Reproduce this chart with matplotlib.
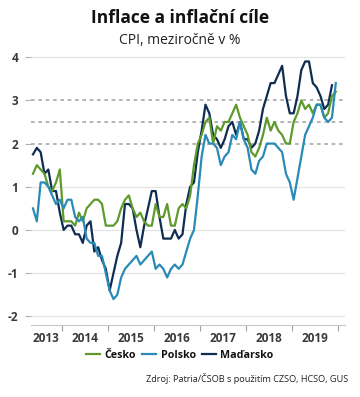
import matplotlib.pyplot as plt
import matplotlib
import numpy as np

matplotlib.rcParams['font.family'] = ['Open Sans', 'DejaVu Sans']

# monthly y/y CPI, May 2013 .. Dec 2019
cesko = [1.3, 1.5, 1.4, 1.3, 1.0, 0.9, 1.1, 1.4,
         0.2, 0.2, 0.2, 0.1, 0.4, 0.2, 0.5, 0.6, 0.7, 0.7, 0.6, 0.1,
         0.1, 0.1, 0.2, 0.5, 0.7, 0.8, 0.5, 0.3, 0.4, 0.2, 0.1, 0.1,
         0.6, 0.3, 0.3, 0.6, 0.1, 0.1, 0.5, 0.6, 0.5, 0.8, 1.5, 2.0,
         2.2, 2.5, 2.6, 2.0, 2.4, 2.3, 2.5, 2.5, 2.7, 2.9, 2.6, 2.4,
         2.2, 1.8, 1.7, 1.9, 2.2, 2.6, 2.3, 2.5, 2.3, 2.2, 2.0, 2.0,
         2.5, 2.7, 3.0, 2.8, 2.9, 2.7, 2.9, 2.9, 2.6, 2.7, 3.1, 3.2]
polsko = [0.5, 0.2, 1.1, 1.1, 1.0, 0.8, 0.6, 0.7,
          0.5, 0.7, 0.7, 0.3, 0.2, 0.3, -0.2, -0.3, -0.3, -0.6, -0.6, -1.0,
          -1.4, -1.6, -1.5, -1.1, -0.9, -0.8, -0.7, -0.6, -0.8, -0.7, -0.6, -0.5,
          -0.9, -0.8, -0.9, -1.1, -0.9, -0.8, -0.9, -0.8, -0.5, -0.2, 0.0, 0.8,
          1.7, 2.2, 2.0, 2.0, 1.9, 1.5, 1.7, 1.8, 2.2, 2.1, 2.5, 2.1,
          1.9, 1.4, 1.3, 1.6, 1.7, 2.0, 2.0, 2.0, 1.9, 1.8, 1.3, 1.1,
          0.7, 1.2, 1.7, 2.2, 2.4, 2.6, 2.9, 2.9, 2.6, 2.5, 2.6, 3.4]
madarsko = [1.75, 1.9, 1.8, 1.3, 1.4, 0.9, 0.9, 0.4,
            0.0, 0.1, 0.1, -0.1, -0.1, -0.3, 0.1, 0.2, -0.5, -0.4, -0.7, -0.9,
            -1.4, -1.0, -0.6, -0.3, 0.6, 0.6, 0.5, 0.0, -0.4, 0.1, 0.5, 0.9,
            0.9, 0.3, -0.2, -0.2, -0.2, 0.0, -0.2, -0.1, 0.6, 1.0, 1.1, 1.8,
            2.3, 2.9, 2.7, 2.2, 2.1, 1.9, 2.1, 2.4, 2.5, 2.2, 2.5, 2.1,
            2.1, 1.9, 2.0, 2.3, 2.8, 3.1, 3.4, 3.4, 3.6, 3.8, 3.1, 2.7,
            2.7, 3.1, 3.7, 3.9, 3.9, 3.4, 3.3, 3.1, 2.8, 2.9, 3.35]
years = ['2013', '2014', '2015', '2016', '2017', '2018', '2019']
targets = [2, 2.5, 3]

c_cz = '#5e9a2c'
c_pl = '#2a8ab8'
c_hu = '#0f2c52'
txt = '#3a3a3a'

fig = plt.figure(figsize=(3.6, 3.97), dpi=100)
ax = fig.add_axes([31/360, 1-325/397, (345-31)/360, (325-55)/397])

x = np.arange(len(cesko))
ax.plot(np.arange(len(madarsko)), madarsko, color=c_hu, lw=1.6, zorder=3, label='Maďarsko')
ax.plot(x, cesko, color=c_cz, lw=1.6, zorder=4, label='Česko')
ax.plot(x, polsko, color=c_pl, lw=1.6, zorder=5, label='Polsko')

for v in [-2, -1, 0, 1, 4]:
    ax.axhline(v, color='#e4e4e4', lw=0.9, zorder=1)
for t in targets:
    ax.axhline(t, color='#a8a8a8', lw=1.2, ls=(0, (2.2, 2.2)), zorder=2)

ax.set_xlim(-0.52, 81.4)
ax.set_ylim(-2.2, 4.05)
ax.set_yticks([-2, -1, 0, 1, 2, 3, 4])
ax.set_yticklabels(['-2', '-1', '0', '1', '2', '3', '4'], fontsize=8.5,
                   fontweight='bold', color=txt)
ax.tick_params(axis='y', length=4, width=0.8, color='#b0b0b0', pad=5)

bounds = [7.5 + 12*i for i in range(7)]
ax.set_xticks(bounds)
ax.set_xticklabels([])
centers = [(-0.52 + 7.5)/2] + [13.5 + 12*i for i in range(6)]
ax.set_xticks(centers, minor=True)
ax.set_xticklabels(years, minor=True, fontsize=8.5, fontweight='bold', color=txt)
ax.tick_params(axis='x', which='major', length=4, width=0.8, color='#a0a0a0')
ax.tick_params(axis='x', which='minor', length=0, pad=5)

for s in ['top', 'right', 'left']:
    ax.spines[s].set_visible(False)
ax.spines['bottom'].set_color('#c8c8c8')
ax.spines['bottom'].set_linewidth(0.8)

fig.text(0.5, 1-18/397, 'Inflace a inflační cíle', ha='center', va='center',
         fontsize=12.5, fontweight='bold', color='#111111')
fig.text(0.5, 1-40/397, 'CPI, meziročně v %', ha='center', va='center',
         fontsize=10, color='#222222')

h, l = ax.get_legend_handles_labels()
order = [1, 2, 0]
leg = fig.legend([h[i] for i in order], [l[i] for i in order], loc='center',
                 bbox_to_anchor=(0.5, 1-355/397), ncol=3, frameon=False,
                 prop={'size': 7.7, 'weight': 'bold'}, handlelength=1.3,
                 handletextpad=0.4, columnspacing=0.6)
for t in leg.get_texts():
    t.set_color('#111111')

fig.text(348/360, 1-378/397, 'Zdroj: Patria/ČSOB s použitím CZSO, HCSO, GUS',
         ha='right', va='center', fontsize=6.6, color='#222222')

fig.savefig('out.png', dpi=100)
